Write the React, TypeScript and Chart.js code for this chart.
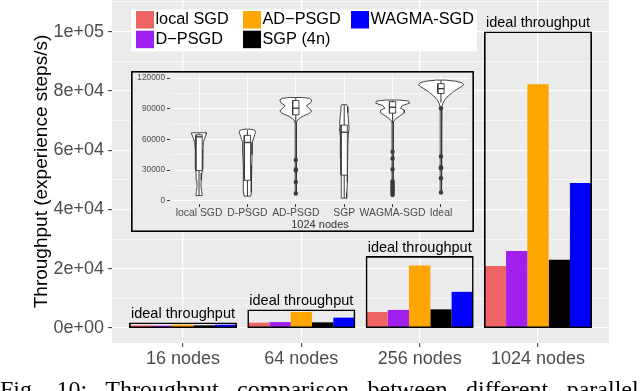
import React, { useEffect, useRef } from "react";
import Chart from "chart.js/auto";

// ---------- main chart data ----------
const categories = ["16 nodes", "64 nodes", "256 nodes", "1024 nodes"];
const seriesNames = ["local SGD", "D\u2212PSGD", "AD\u2212PSGD", "SGP (4n)", "WAGMA-SGD"];
const seriesColors = ["#EE6363", "#A020F0", "#FFA500", "#000000", "#0000FF"];
const localSGD = [900, 1800, 5400, 20900];
const dPSGD = [800, 2000, 6100, 26000];
const adPSGD = [1100, 5400, 21100, 82200];
const sgp4n = [900, 1900, 6300, 23000];
const wagmaSGD = [1100, 3500, 12200, 48900];
const idealThroughput = [1600, 6000, 24000, 99800];
const idealLabel = "ideal throughput";
const yGridValues = [0, 10000, 20000, 30000, 40000, 50000, 60000, 70000, 80000, 90000, 100000, 110000];
const yMajorTicks = [0, 20000, 40000, 60000, 80000, 100000];
const yTickLabels = ["0e+00", "2e+04", "4e+04", "6e+04", "8e+04", "1e+05"];
const yTitle = "Throughput (experience steps/s)";
const yMin = -5060;
const yMax = 110660;
const caption = "Fig. 10: Throughput comparison between different parallel";

// ---------- inset (violin) data, 1024 nodes ----------
const insetCategories = ["local SGD", "D-PSGD", "AD-PSGD", "SGP", "WAGMA-SGD", "Ideal"];
const insetTitle = "1024 nodes";
const insetGridValues = [0, 15000, 30000, 45000, 60000, 75000, 90000, 105000, 120000];
const insetYMajor = [0, 30000, 60000, 90000, 120000];
const violinLevels = [
  [66500, 65000, 61000, 57000, 50000, 40000, 31000, 27000, 20000, 14000, 9000, 5000],
  [70000, 69000, 67000, 63000, 57000, 45000, 35000, 25000, 15000, 8000, 4500],
  [101000, 100200, 98500, 96000, 93000, 90500, 88000, 85500, 83000, 80500, 78000, 76000, 6500],
  [94000, 92000, 86000, 78000, 71000, 64000, 55000, 42000, 30000, 18000, 8000, 2500],
  [98500, 97500, 95500, 93000, 90500, 88500, 86000, 83000, 80000, 77500, 76000, 6000],
  [118000, 117000, 115500, 113500, 111500, 109000, 106000, 102500, 99000, 95500, 92000, 89000, 8000],
];
const violinHalfWidths = [
  [0.155, 0.15, 0.115, 0.09, 0.08, 0.075, 0.075, 0.06, 0.045, 0.04, 0.055, 0.065],
  [0.06, 0.15, 0.17, 0.14, 0.1, 0.095, 0.09, 0.085, 0.08, 0.075, 0.07],
  [0.12, 0.28, 0.33, 0.31, 0.22, 0.27, 0.33, 0.28, 0.16, 0.07, 0.025, 0.012, 0.012],
  [0.05, 0.068, 0.075, 0.09, 0.1, 0.085, 0.075, 0.07, 0.065, 0.06, 0.055, 0.05],
  [0.15, 0.33, 0.35, 0.2, 0.16, 0.25, 0.24, 0.15, 0.06, 0.02, 0.012, 0.012],
  [0.1, 0.3, 0.42, 0.47, 0.42, 0.33, 0.24, 0.15, 0.08, 0.04, 0.02, 0.012, 0.012],
];
const boxQ1 = [29500, 20000, 84000, 25000, 85700, 104900];
const boxMedian = [62500, 57000, 90500, 67000, 91500, 109700];
const boxQ3 = [64500, 64000, 98000, 74000, 96900, 114500];
const whiskerLow = [5000, 4500, 76000, 2500, 76000, 96000];
const whiskerHigh = [66000, 69000, 100500, 93500, 98000, 117500];
const outliers = [
  [],
  [],
  [39800, 30500, 29500, 18300, 7100],
  [],
  [48000, 41400, 30800, 19000, 17500, 16000, 14500, 13000, 11500, 10000, 8500, 7000, 5500],
  [90500, 43300, 32700, 31800, 22100, 8100],
];

const FONT = "'Liberation Sans', Arial, Helvetica, sans-serif";
const BOX_HALF = 0.065;

const near = (arr: number[], v: number) => arr.findIndex((t) => Math.abs(t - v) < 1);

const panelBg = {
  id: "panelBg",
  beforeDraw(chart: any) {
    const { ctx, chartArea: a } = chart;
    ctx.save();
    ctx.fillStyle = "#EBEBEB";
    ctx.fillRect(a.left, a.top, a.right - a.left, a.bottom - a.top);
    ctx.restore();
  },
};

const idealLabels = {
  id: "idealLabels",
  afterDatasetsDraw(chart: any) {
    const meta = chart.getDatasetMeta(5);
    const ctx = chart.ctx;
    ctx.save();
    ctx.font = `14.5px ${FONT}`;
    ctx.fillStyle = "#000";
    ctx.textAlign = "center";
    ctx.textBaseline = "bottom";
    meta.data.forEach((el: any) => ctx.fillText(idealLabel, el.x, el.y - 2));
    ctx.restore();
  },
};

const ggLegend = {
  id: "ggLegend",
  afterDraw(chart: any) {
    const ctx = chart.ctx;
    ctx.save();
    ctx.fillStyle = "#fff";
    ctx.fillRect(131, 9.5, 346, 42);
    const colX = [136, 243, 351];
    const rowY = [11, 30.7];
    ctx.font = `16.3px ${FONT}`;
    ctx.textBaseline = "middle";
    ctx.textAlign = "left";
    seriesNames.forEach((name, i) => {
      const c = Math.floor(i / 2);
      const r = i % 2;
      ctx.fillStyle = seriesColors[i];
      ctx.fillRect(colX[c], rowY[r], 18, 17.5);
      ctx.fillStyle = "#000";
      ctx.fillText(name, colX[c] + 19.5, rowY[r] + 9);
    });
    ctx.restore();
  },
};

const insetFrame = {
  id: "insetFrame",
  beforeDraw(chart: any) {
    const { ctx, width, height } = chart;
    ctx.save();
    ctx.fillStyle = "#EBEBEB";
    ctx.fillRect(0, 0, width, height);
    ctx.restore();
  },
  afterDraw(chart: any) {
    const { ctx, width, height } = chart;
    ctx.save();
    ctx.strokeStyle = "#000";
    ctx.lineWidth = 1.6;
    ctx.strokeRect(0.8, 0.8, width - 1.6, height - 1.6);
    ctx.restore();
  },
};

function mainConfig(): any {
  const series = [localSGD, dPSGD, adPSGD, sgp4n, wagmaSGD];
  const datasets: any[] = series.map((vals, s) => ({
    type: "bar",
    label: seriesNames[s],
    data: vals.map((v, i) => ({ x: i, y: v })),
    backgroundColor: seriesColors[s],
    borderWidth: 0,
    inflateAmount: 0,
    categoryPercentage: 0.9,
    barPercentage: 1,
    xAxisID: "x",
    yAxisID: "y",
  }));
  // ideal rectangles: thin border inflated outward so the stroke is centred on the bar edge
  datasets.push({
    type: "bar",
    label: idealLabel,
    data: idealThroughput.map((v, i) => ({ x: i, y: v })),
    backgroundColor: "rgba(0,0,0,0)",
    borderColor: "#000",
    borderWidth: 0.1,
    borderSkipped: false,
    inflateAmount: 0.75,
    grouped: false,
    categoryPercentage: 0.9,
    barPercentage: 1,
    xAxisID: "x",
    yAxisID: "y",
    order: -1,
  });
  const isMajor = (c: any) => !!c.tick && near(yMajorTicks, c.tick.value) >= 0;
  return {
    type: "bar",
    data: { datasets },
    plugins: [panelBg, idealLabels, ggLegend],
    options: {
      responsive: false,
      animation: false,
      devicePixelRatio: 1,
      events: [],
      layout: { padding: { left: 0, right: 31, top: 0, bottom: 0 } },
      plugins: { legend: { display: false }, tooltip: { enabled: false } },
      scales: {
        x: {
          type: "linear",
          min: -0.6,
          max: 3.6,
          offset: false,
          afterBuildTicks: (s: any) => {
            s.ticks = categories.map((_, i) => ({ value: i }));
          },
          afterFit: (s: any) => {
            s.height = 48;
            s.paddingLeft = 0;
            s.paddingRight = 0;
          },
          ticks: {
            autoSkip: false,
            maxRotation: 0,
            minRotation: 0,
            padding: 1,
            color: "#4D4D4D",
            font: { size: 18, family: FONT },
            callback: (v: any) => categories[Math.round(v)] ?? "",
          },
          grid: { color: "#fff", lineWidth: 1.3, offset: false, drawTicks: true, tickLength: 4, tickColor: "#333", tickWidth: 1 },
          border: { display: false },
        },
        y: {
          type: "linear",
          position: "left",
          min: yMin,
          max: yMax,
          afterBuildTicks: (s: any) => {
            s.ticks = yGridValues.map((v) => ({ value: v }));
          },
          afterFit: (s: any) => {
            s.width = 112;
            s.paddingTop = 0;
            s.paddingBottom = 0;
          },
          ticks: {
            autoSkip: false,
            padding: 4,
            color: "#4D4D4D",
            font: { size: 18, family: FONT },
            callback: (v: any) => {
              const k = near(yMajorTicks, Number(v));
              return k >= 0 ? yTickLabels[k] : "";
            },
          },
          grid: {
            color: "#fff",
            lineWidth: (c: any) => (isMajor(c) ? 1.3 : 0.6),
            drawTicks: true,
            tickLength: 4,
            tickWidth: 1,
            tickColor: (c: any) => (isMajor(c) ? "#333" : "rgba(0,0,0,0)"),
          },
          border: { display: false },
          title: {
            display: true,
            text: yTitle,
            color: "#000",
            font: { size: 19, family: FONT, lineHeight: 1.2 },
            padding: { top: 30, bottom: 0 },
          },
        },
      },
    },
  };
}

function insetConfig(): any {
  const datasets: any[] = [];
  const line = "#333";
  violinLevels.forEach((levels, i) => {
    const w = violinHalfWidths[i];
    const right = levels.map((y, k) => ({ x: i + w[k], y }));
    const left = levels.map((y, k) => ({ x: i - w[k], y })).reverse();
    datasets.push({
      data: [...right, ...left, right[0]],
      showLine: true,
      fill: "shape",
      backgroundColor: "#fff",
      borderColor: line,
      borderWidth: 0.9,
      pointRadius: 0,
      tension: 0,
      order: 5,
    });
  });
  insetCategories.forEach((_, i) => {
    datasets.push({
      data: [
        { x: i, y: whiskerLow[i] },
        { x: i, y: whiskerHigh[i] },
      ],
      showLine: true,
      borderColor: line,
      borderWidth: 1,
      pointRadius: 0,
      order: 4,
    });
    datasets.push({
      data: [
        { x: i - BOX_HALF, y: boxQ1[i] },
        { x: i + BOX_HALF, y: boxQ1[i] },
        { x: i + BOX_HALF, y: boxQ3[i] },
        { x: i - BOX_HALF, y: boxQ3[i] },
        { x: i - BOX_HALF, y: boxQ1[i] },
      ],
      showLine: true,
      fill: "shape",
      backgroundColor: "#fff",
      borderColor: line,
      borderWidth: 0.9,
      pointRadius: 0,
      order: 3,
    });
    datasets.push({
      data: [
        { x: i - BOX_HALF, y: boxMedian[i] },
        { x: i + BOX_HALF, y: boxMedian[i] },
      ],
      showLine: true,
      borderColor: line,
      borderWidth: 1.3,
      pointRadius: 0,
      order: 2,
    });
  });
  const pts: any[] = [];
  outliers.forEach((vals, i) => vals.forEach((v) => pts.push({ x: i, y: v })));
  datasets.push({
    data: pts,
    showLine: false,
    pointRadius: 2.2,
    pointBackgroundColor: "#3a3a3a",
    pointBorderWidth: 0,
    order: 1,
  });
  const isMajor = (c: any) => !!c.tick && near(insetYMajor, c.tick.value) >= 0;
  return {
    type: "scatter",
    data: { datasets },
    plugins: [insetFrame],
    options: {
      responsive: false,
      animation: false,
      devicePixelRatio: 1,
      events: [],
      layout: { padding: { left: 0, right: 1.4, top: 2, bottom: 0 } },
      plugins: { legend: { display: false }, tooltip: { enabled: false } },
      scales: {
        x: {
          type: "linear",
          min: -0.6,
          max: 5.6,
          afterBuildTicks: (s: any) => {
            s.ticks = insetCategories.map((_, i) => ({ value: i }));
          },
          afterFit: (s: any) => {
            s.height = 28;
            s.paddingLeft = 0;
            s.paddingRight = 0;
          },
          ticks: {
            autoSkip: false,
            maxRotation: 0,
            minRotation: 0,
            padding: 0,
            color: "#4D4D4D",
            font: { size: 10.4, family: FONT },
            callback: (v: any) => insetCategories[Math.round(v)] ?? "",
          },
          grid: { color: "#fff", lineWidth: 1, drawTicks: true, tickLength: 3, tickColor: "#333", tickWidth: 1 },
          border: { display: false },
          title: {
            display: true,
            text: insetTitle,
            color: "#333",
            font: { size: 11, family: FONT, lineHeight: 1.2 },
            padding: { top: 0, bottom: 0 },
          },
        },
        y: {
          type: "linear",
          min: -3200,
          max: 123000,
          afterBuildTicks: (s: any) => {
            s.ticks = insetGridValues.map((v) => ({ value: v }));
          },
          afterFit: (s: any) => {
            s.width = 39;
            s.paddingTop = 0;
            s.paddingBottom = 0;
          },
          ticks: {
            autoSkip: false,
            padding: 2,
            color: "#4D4D4D",
            font: { size: 8.3, family: FONT },
            callback: (v: any) => {
              const k = near(insetYMajor, Number(v));
              return k >= 0 ? String(insetYMajor[k]) : "";
            },
          },
          grid: {
            color: "#fff",
            lineWidth: (c: any) => (isMajor(c) ? 1 : 0.5),
            drawTicks: true,
            tickLength: 3,
            tickWidth: 1,
            tickColor: (c: any) => (isMajor(c) ? "#333" : "rgba(0,0,0,0)"),
          },
          border: { display: false },
        },
      },
    },
  };
}

export default function App() {
  const mainRef = useRef<HTMLCanvasElement>(null);
  const insetRef = useRef<HTMLCanvasElement>(null);
  useEffect(() => {
    Chart.defaults.font.family = FONT;
    const main = new Chart(mainRef.current as any, mainConfig());
    const inset = new Chart(insetRef.current as any, insetConfig());
    return () => {
      main.destroy();
      inset.destroy();
    };
  }, []);
  return (
    <div style={{ position: "fixed", left: 0, top: 0, width: 640, height: 391, overflow: "hidden", background: "#fff" }}>
      <canvas ref={mainRef} width={640} height={391} style={{ position: "absolute", left: 0, top: 0 }} />
      <canvas ref={insetRef} width={343} height={161} style={{ position: "absolute", left: 131, top: 71 }} />
      <div
        style={{
          position: "absolute",
          left: 0,
          top: 377,
          whiteSpace: "nowrap",
          fontFamily: "'Liberation Serif', 'Times New Roman', serif",
          fontSize: 24,
          lineHeight: "24px",
          wordSpacing: "12.5px",
          color: "#000",
        }}
      >
        {caption}
      </div>
    </div>
  );
}
